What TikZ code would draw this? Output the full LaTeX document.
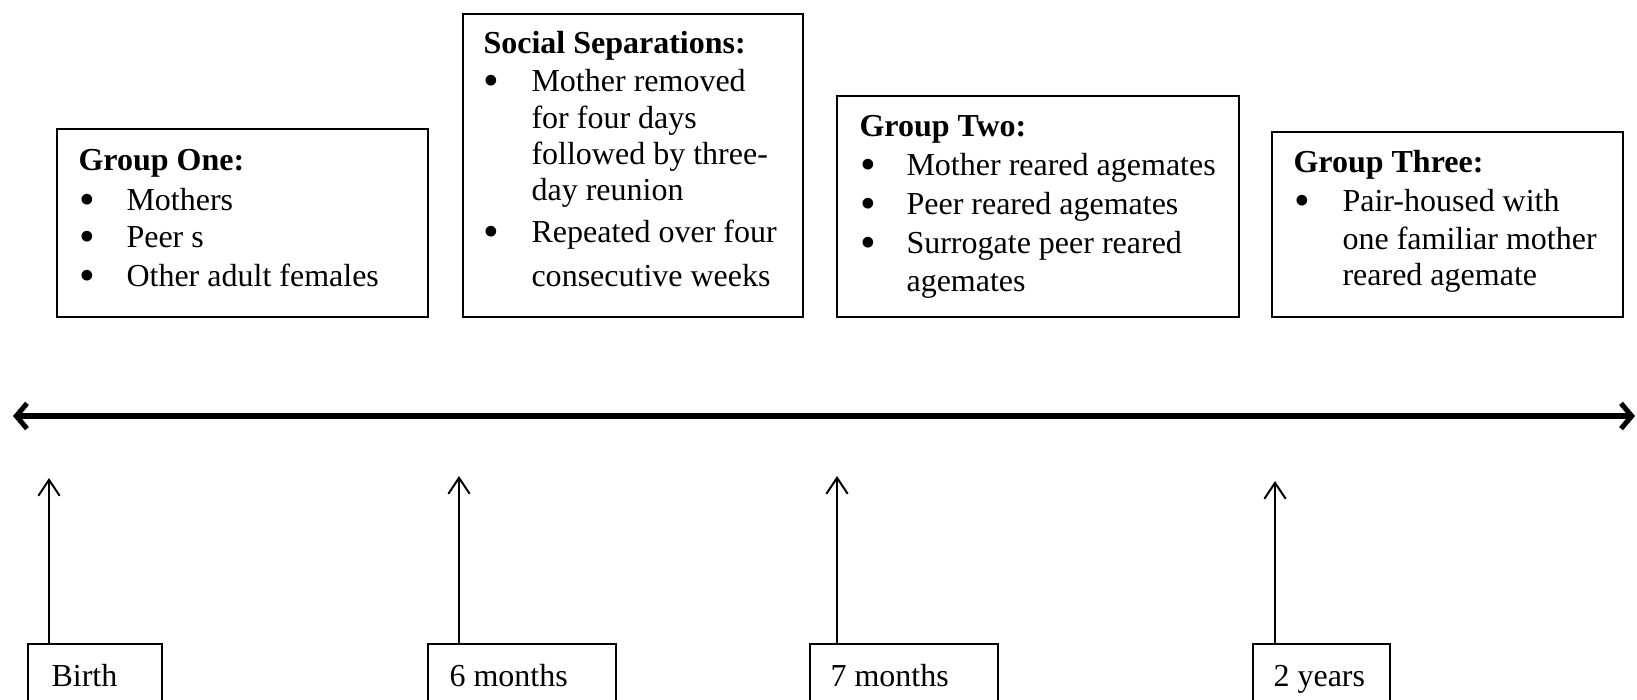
\documentclass[tikz,border=0pt]{standalone}
\usepackage{fontspec}
\setmainfont{Liberation Serif}
\usetikzlibrary{arrows.meta,fit}
\newcommand\bigbul{\raisebox{-1.7pt}[4pt][0pt]{\scalebox{1.4}{\textbullet}}}
\begin{document}
\begin{tikzpicture}[x=0.375pt,y=-0.375pt,
  box/.style={draw,line width=0.75pt,inner sep=0pt,outer sep=0pt},
  txt/.style={anchor=base west,inner sep=0pt,font=\fontsize{12pt}{14pt}\selectfont},
  ttl/.style={txt,font=\fontsize{12pt}{14pt}\selectfont\bfseries},
  tick/.style={line width=0.75pt,-{Straight Barb[length=6pt,width=8pt]}},
  timeline/.style={line width=1.9pt,{Straight Barb[length=4pt,width=9.5pt]}-{Straight Barb[length=4pt,width=9.5pt]}}]
\clip (0,0) rectangle (1637,699);
% top boxes
\node[box,fit={(57,129) (428,317)}] (g1) {};
\node[box,fit={(463,14) (803,317)}] (ss) {};
\node[box,fit={(837,96) (1239,317)}] (g2) {};
\node[box,fit={(1272,132) (1623,317)}] (g3) {};
% group one text
\node[ttl] (g1t) at (78,170) {Group One:};
\node[txt] (g1b1) at (79,210) {\bigbul};
\node[txt] (g1i1) at (126,210) {Mothers};
\node[txt] (g1b2) at (79,247) {\bigbul};
\node[txt] (g1i2) at (126,247) {Peer s};
\node[txt] (g1b3) at (79,286) {\bigbul};
\node[txt] (g1i3) at (126,286) {Other adult females};
% social separations text
\node[ttl] (sst) at (483,53) {Social Separations:};
\node[txt] (ssb1) at (483,91) {\bigbul};
\node[txt] (ssi1a) at (531,91) {Mother removed};
\node[txt] (ssi1b) at (531,128) {for four days};
\node[txt] (ssi1c) at (531,164) {followed by three-};
\node[txt] (ssi1d) at (531,200) {day reunion};
\node[txt] (ssb2) at (483,242) {\bigbul};
\node[txt] (ssi2a) at (531,242) {Repeated over four};
\node[txt] (ssi2b) at (531,286) {consecutive weeks};
% group two text
\node[ttl] (g2t) at (859,136) {Group Two:};
\node[txt] (g2b1) at (860,175) {\bigbul};
\node[txt] (g2i1) at (906,175) {Mother reared agemates};
\node[txt] (g2b2) at (860,214) {\bigbul};
\node[txt] (g2i2) at (906,214) {Peer reared agemates};
\node[txt] (g2b3) at (860,253) {\bigbul};
\node[txt] (g2i3a) at (906,253) {Surrogate peer reared};
\node[txt] (g2i3b) at (906,291) {agemates};
% group three text
\node[ttl] (g3t) at (1293,172) {Group Three:};
\node[txt] (g3b1) at (1294,211) {\bigbul};
\node[txt] (g3i1a) at (1342,211) {Pair-housed with};
\node[txt] (g3i1b) at (1342,249) {one familiar mother};
\node[txt] (g3i1c) at (1342,285) {reared agemate};
% timeline
\coordinate (tl) at (13,416);
\coordinate (tr) at (1635,416);
\draw[timeline] (tl) -- (tr);
% bottom boxes
\node[box,fit={(28,644) (162,730)}] (b1) {};
\node[box,fit={(428,644) (616,730)}] (b2) {};
\node[box,fit={(810,644) (998,730)}] (b3) {};
\node[box,fit={(1253,644) (1390,730)}] (b4) {};
\node[txt] (b1t) at (51,686) {Birth};
\node[txt] (b2t) at (449,686) {6 months};
\node[txt] (b3t) at (830,686) {7 months};
\node[txt] (b4t) at (1273,686) {2 years};
% tick arrows
\coordinate (a1) at (49,478);
\coordinate (a2) at (459,476);
\coordinate (a3) at (837,476);
\coordinate (a4) at (1275,481);
\draw[tick] (a1 |- b1.north) -- (a1);
\draw[tick] (a2 |- b2.north) -- (a2);
\draw[tick] (a3 |- b3.north) -- (a3);
\draw[tick] (a4 |- b4.north) -- (a4);
\end{tikzpicture}
\end{document}
